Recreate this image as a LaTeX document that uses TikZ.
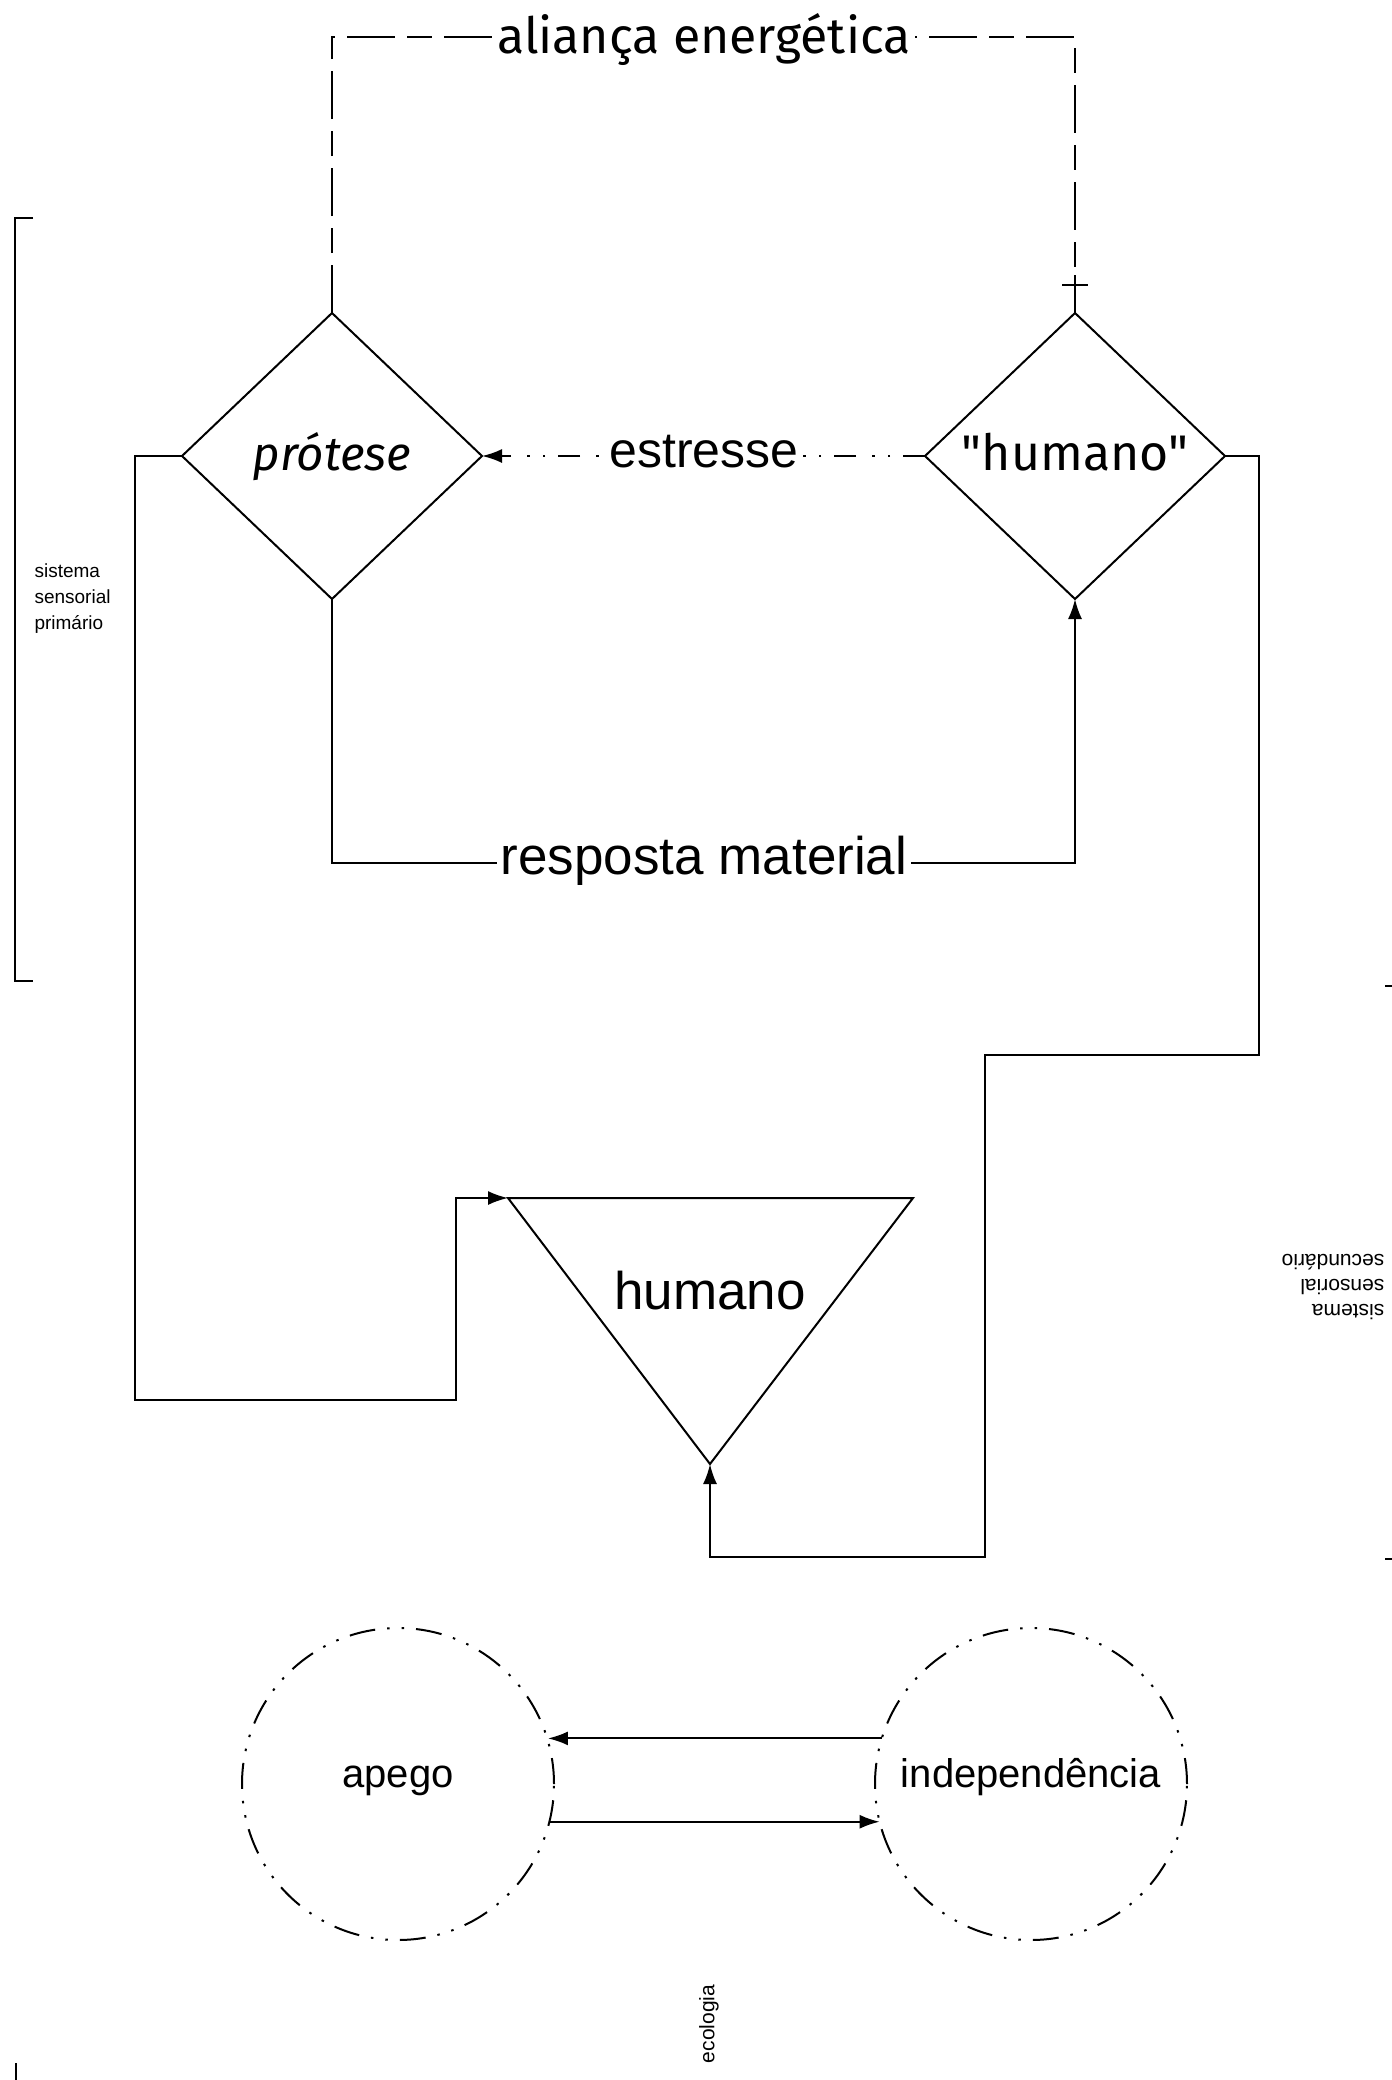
\documentclass[tikz,border=0pt]{standalone}
\usepackage{fontspec}
\setmainfont{Liberation Sans}
\newfontfamily\fira{Fira Sans}
\newfontfamily\lib{Liberation Sans}
\usetikzlibrary{shapes.geometric,arrows.meta}
\begin{document}
\begin{tikzpicture}[x=1pt,y=-1pt,
  conn/.style={line width=2pt},
  tip/.style={-{Latex[length=20pt,width=14pt]}},
  dia/.style={draw, diamond, minimum width=300pt, minimum height=286pt, inner sep=0pt, outer sep=0pt, line width=2pt},
  ring/.style={draw, circle, minimum size=312pt, inner sep=0pt, outer sep=0pt, line width=2pt,
               dash pattern=on 26pt off 12pt on 2.5pt off 12pt on 2.5pt off 12pt},
  alline/.style={line width=2.5pt, dash pattern=on 48pt off 12pt on 25pt off 12pt},
  ddot/.style={line width=2pt, dash pattern=on 22pt off 13pt on 2.5pt off 13pt on 2.5pt off 16pt},
  brk/.style={line width=2.5pt},
  lbl/.style={fill=white, inner xsep=4pt, inner ysep=0pt, anchor=base},
  firabig/.style={font=\fira\fontsize{50}{60}\selectfont},
  libbig/.style={font=\lib\fontsize{53}{60}\selectfont},
  libmid/.style={font=\lib\fontsize{40}{48}\selectfont},
  small/.style={font=\lib\fontsize{19}{26}\selectfont},
  smallb/.style={font=\lib\fontsize{21}{25}\selectfont}
]
\useasboundingbox (0,0) rectangle (1392,2080);
\fill[white] (0,0) rectangle (1392,2080);

% named points
\coordinate (topy) at (0,37);
\coordinate (rmy) at (0,863);
\coordinate (L1) at (135,1400);
\coordinate (L2) at (456,1198);
\coordinate (R1) at (1259,1055);
\coordinate (R2) at (985,1557);
\coordinate (triTL) at (508,1198);
\coordinate (triTR) at (913,1198);
\coordinate (triB) at (710,1464);

% diamonds
\node[dia] (prot) at (332,456) {};
\node[dia] (hum1) at (1075,456) {};
\node[font=\fira\itshape\fontsize{47.5}{57}\selectfont, anchor=base] (protT) at (332,470) {prótese};
\node[firabig, anchor=base] (humT) at (1075,470) {"humano"};

% triangle
\draw[line width=2pt] (triTL) -- (triTR) -- (triB) -- cycle;
\node[libbig, anchor=base] (triT) at (710,1309) {humano};

% circles
\node[ring] (apego) at (398,1784) {};
\node[ring] (indep) at (1031,1784) {};
\node[libmid, anchor=base] (apegoT) at (398,1787) {apego};
\node[libmid, anchor=base] (indepT) at (1031,1787) {independência};

% connectors
\draw[alline] (prot.north) -- (prot.north |- topy) -- (hum1.north |- topy) -- (hum1.north);
\draw[conn] (hum1.north) -- ++(0,-38);
\draw[conn] ([xshift=-13pt,yshift=28pt]hum1.north) -- ([xshift=13pt,yshift=28pt]hum1.north);
\node[lbl, firabig] (alT) at (704,53) {aliança energética};

\draw[ddot, tip] (hum1.west) -- (prot.east);
\node[lbl, font=\lib\fontsize{50}{60}\selectfont] (esT) at (704,467) {estresse};

\draw[conn, tip] (prot.south) -- (prot.south |- rmy) -- (hum1.south |- rmy) -- (hum1.south);
\node[lbl, libbig] (rmT) at (704,874) {resposta material};

\draw[conn, tip] (prot.west) -| (L1) -| (L2) -- (triTL);
\draw[conn, tip] (hum1.east) -| (R1) -| (R2) -| (triB);

\draw[conn, tip] (indep.163.2) -- (apego.16.8 |- indep.163.2);
\draw[conn, tip] (apego.-14.1) -- (indep.194.1 |- apego.-14.1);

% brackets and side labels
\draw[brk] (33,218) -- (15,218) -- (15,981) -- (33,981);
\node[small, anchor=west, align=left] (ssp) at (31,599) {sistema\\sensorial\\primário};
\draw[brk] (1385,986) -- (1397,986) -- (1397,1559) -- (1385,1559);
\node[smallb, align=left, rotate=180] (sss) at (1333,1287) {sistema\\sensorial\\secundário};
\node[smallb, rotate=90] (eco) at (709,2024) {ecologia};
\draw[brk] (16,2063) -- (16,2095);
\end{tikzpicture}
\end{document}
